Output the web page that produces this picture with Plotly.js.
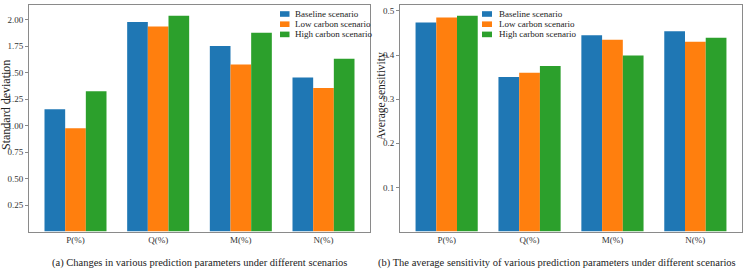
<!DOCTYPE html>
<html>
<head>
<meta charset="utf-8">
<script src="https://cdn.plot.ly/plotly-3.0.1.min.js"></script>
<style>html,body{margin:0;padding:0;background:#fff;}#chart{width:755px;height:272px;}</style>
</head>
<body>
<div id="chart"></div>
<script>
const categories = ["P(%)", "Q(%)", "M(%)", "N(%)"];
const seriesNames = ["Baseline scenario", "Low carbon scenario", "High carbon scenario"];
const stdBaseline = [1.154, 1.978, 1.751, 1.454];
const stdLowCarbon = [0.974, 1.937, 1.577, 1.356];
const stdHighCarbon = [1.325, 2.038, 1.877, 1.631];
const sensBaseline = [0.474, 0.350, 0.445, 0.454];
const sensLowCarbon = [0.485, 0.360, 0.435, 0.430];
const sensHighCarbon = [0.489, 0.375, 0.399, 0.439];
const stdTicks = [0.25, 0.5, 0.75, 1.0, 1.25, 1.5, 1.75, 2.0];
const stdTickText = ["0.25", "0.50", "0.75", "1.00", "1.25", "1.50", "1.75", "2.00"];
const sensTicks = [0.1, 0.2, 0.3, 0.4, 0.5];
const sensTickText = ["0.1", "0.2", "0.3", "0.4", "0.5"];
const yTitleLeft = "Standard deviation";
const yTitleRight = "Average sensitivity";
const captionA = "(a) Changes in various prediction parameters under different scenarios";
const captionB = "(b) The average sensitivity of various prediction parameters under different scenarios";
const colors = ["#1f77b4", "#ff7f0e", "#2ca02c"];

const W = 755, H = 272;
const FONT = "Liberation Serif, Times New Roman, serif";
const px = v => v / W;
const py = v => 1 - v / H;

const leftData = [stdBaseline, stdLowCarbon, stdHighCarbon];
const rightData = [sensBaseline, sensLowCarbon, sensHighCarbon];
const traces = [];
leftData.forEach((vals, i) => {
  traces.push({type: "bar", x: categories, y: vals, name: seriesNames[i], xaxis: "x", yaxis: "y",
    marker: {color: colors[i], line: {width: 0}}, showlegend: false, hoverinfo: "y"});
});
rightData.forEach((vals, i) => {
  traces.push({type: "bar", x: categories, y: vals, name: seriesNames[i], xaxis: "x2", yaxis: "y2",
    marker: {color: colors[i], line: {width: 0}}, showlegend: false, hoverinfo: "y"});
});

const axisCommon = {showline: true, mirror: true, linecolor: "#8a8a8a", linewidth: 1, showgrid: false, zeroline: false,
  tickfont: {family: FONT, size: 9, color: "#333"}};

// hand-drawn legends (compact row spacing like the reference)
const shapes = [];
const annotations = [];
const legendRows = [14, 24.2, 34.4];
function addLegend(patchX0, patchX1, textX) {
  seriesNames.forEach((name, i) => {
    const c = legendRows[i];
    shapes.push({type: "rect", xref: "paper", yref: "paper", x0: px(patchX0), x1: px(patchX1),
      y0: py(c + 2.8), y1: py(c - 2.8), fillcolor: colors[i], line: {width: 0}});
    annotations.push({text: name, xref: "paper", yref: "paper", x: px(textX), y: py(c), xanchor: "left",
      yanchor: "middle", showarrow: false, font: {family: FONT, size: 9, color: "#222"}});
  });
}
addLegend(280, 289.5, 293);
addLegend(482, 492, 496.5);

annotations.push(
  {text: yTitleLeft, xref: "paper", yref: "paper", x: px(6), y: py(105), xanchor: "center", yanchor: "middle",
    textangle: -90, showarrow: false, font: {family: FONT, size: 12, color: "#222"}},
  {text: yTitleRight, xref: "paper", yref: "paper", x: px(380.5), y: py(97), xanchor: "center", yanchor: "middle",
    textangle: -90, showarrow: false, font: {family: FONT, size: 11.5, color: "#222"}},
  {text: captionA, xref: "paper", yref: "paper", x: px(199), y: py(263), xanchor: "center", yanchor: "middle",
    showarrow: false, font: {family: FONT, size: 10.5, color: "#222"}},
  {text: captionB, xref: "paper", yref: "paper", x: px(557), y: py(263), xanchor: "center", yanchor: "middle",
    showarrow: false, font: {family: FONT, size: 10.5, color: "#222"}}
);

const yb = py(231.5), yt = py(5);
const layout = {
  width: W, height: H,
  margin: {l: 0, r: 0, t: 0, b: 0},
  paper_bgcolor: "#fff", plot_bgcolor: "#fff",
  font: {family: FONT, color: "#222"},
  barmode: "group", bargap: 0.25, bargroupgap: 0,
  showlegend: false,
  xaxis: Object.assign({}, axisCommon, {domain: [px(29), px(370)], anchor: "y", type: "category",
    range: [-0.5625, 3.5625], ticks: "", ticklen: 0}),
  yaxis: Object.assign({}, axisCommon, {domain: [yb, yt], anchor: "x", range: [0, 2.139],
    tickvals: stdTicks, ticktext: stdTickText, ticks: "outside", ticklen: 3, tickcolor: "#8a8a8a"}),
  xaxis2: Object.assign({}, axisCommon, {domain: [px(400), px(742)], anchor: "y2", type: "category",
    range: [-0.5625, 3.5625], ticks: "", ticklen: 0}),
  yaxis2: Object.assign({}, axisCommon, {domain: [yb, yt], anchor: "x2", range: [0, 0.5135],
    tickvals: sensTicks, ticktext: sensTickText, ticks: "outside", ticklen: 3, tickcolor: "#8a8a8a"}),
  shapes: shapes,
  annotations: annotations
};

Plotly.newPlot("chart", traces, layout, {staticPlot: true, displayModeBar: false});
</script>
</body>
</html>
